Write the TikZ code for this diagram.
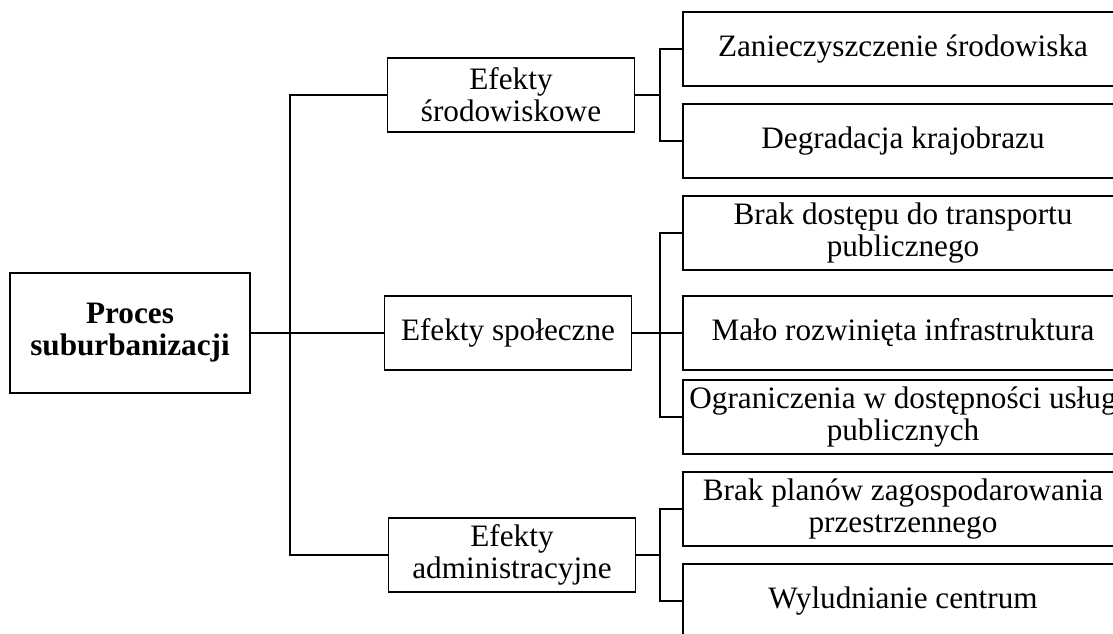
\documentclass[tikz,border=0pt]{standalone}
\usepackage{fontspec}
\setmainfont{Liberation Serif}
\usepackage{tikz}
\usetikzlibrary{positioning}

\begin{document}
\begin{tikzpicture}[x=0.5pt,y=-0.5pt,line width=0.9pt,
    font=\fontsize{15.6}{16}\selectfont]
  \tikzstyle{root}=[draw=black,align=center,minimum width=120pt,minimum height=60pt,font=\fontsize{15.6}{16}\selectfont\bfseries]
  \tikzstyle{effect}=[draw=black,align=center,minimum width=123.5pt,minimum height=37pt,inner sep=0pt]
  \tikzstyle{item}=[draw=black,align=center,minimum width=220pt,minimum height=37pt,inner sep=0pt]

  \clip (0,0) rectangle (1113,633);

  \node[root]   at ( 130,333) (proc) {Proces\\suburbanizacji};

  \node[effect] at ( 511, 95) (srod)  {Efekty\\środowiskowe};
  \node[effect] at ( 508,333) (spol)  {Efekty społeczne};
  \node[effect] at ( 512,555) (admin) {Efekty\\administracyjne};

  \node[item] at (903, 49) (zan)  {Zanieczyszczenie środowiska};
  \node[item] at (903,141) (degr) {Degradacja krajobrazu};
  \node[item] at (903,233) (trans) {Brak dostępu do transportu\\publicznego};
  \node[item] at (903,333) (infra) {Mało rozwinięta infrastruktura};
  \node[item] at (903,417) (uslug) {Ograniczenia w dostępności usług\\publicznych};
  \node[item] at (903,509) (plan) {Brak planów zagospodarowania\\przestrzennego};
  \node[item] at (903,601) (wyl)  {Wyludnianie centrum};

  \coordinate (t)  at (290,333);
  \coordinate (b1) at (660, 95);
  \coordinate (b2) at (660,333);
  \coordinate (b3) at (660,555);

  \draw (proc) -- (t);
  \draw (t) |- (srod);
  \draw (t) -- (spol);
  \draw (t) |- (admin);

  \draw (srod) -- (b1);
  \draw (b1) |- (zan);
  \draw (b1) |- (degr);

  \draw (spol) -- (b2);
  \draw (b2) |- (trans);
  \draw (b2) -- (infra);
  \draw (b2) |- (uslug);

  \draw (admin) -- (b3);
  \draw (b3) |- (plan);
  \draw (b3) |- (wyl);
\end{tikzpicture}
\end{document}
